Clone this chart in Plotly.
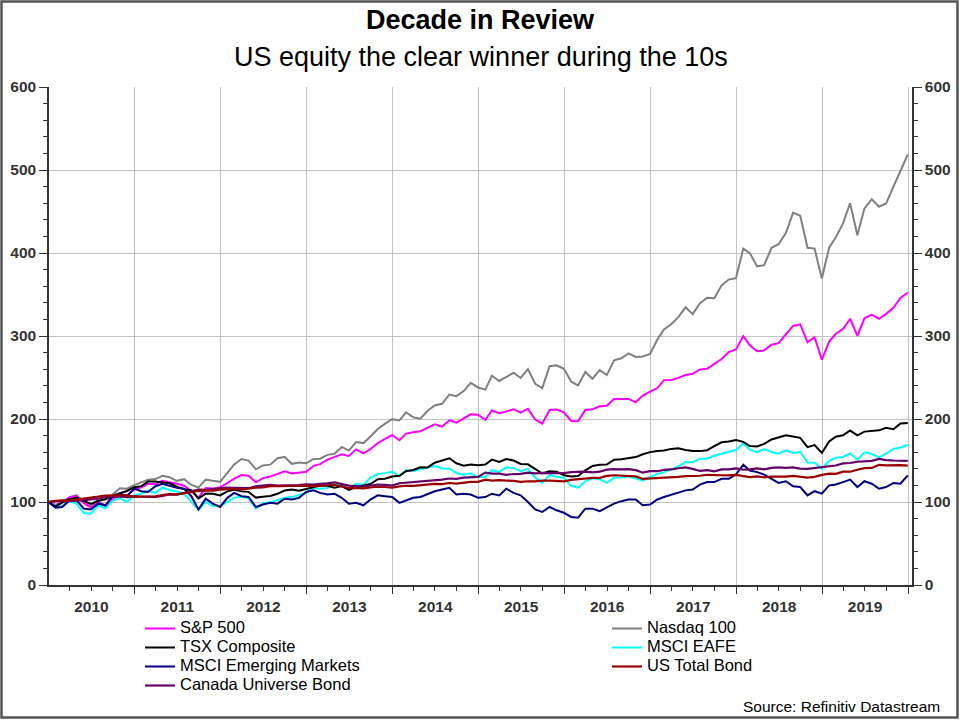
import pandas as pd
import plotly.graph_objects as go

# ---- dates: start point + month ends 2010-01 .. 2019-12
start_date = ["2010-01-01"]
month_ends = [d.strftime("%Y-%m-%d") for d in pd.date_range("2010-01-31", periods=120, freq=pd.offsets.MonthEnd())]
dates = start_date + month_ends

series_names = ["S&P 500", "Nasdaq 100", "TSX Composite", "MSCI EAFE",
                "MSCI Emerging Markets", "US Total Bond", "Canada Universe Bond"]

sp500 = [100,
    96.4, 99.4, 105.4, 107.1, 98.5, 93.4, 99.9, 95.4, 103.9, 107.8, 107.8, 115.1,
    117.8, 121.8, 121.8, 125.5, 124.1, 122.0, 119.6, 113.1, 105.2, 116.7, 116.4, 117.6,
    122.9, 128.2, 132.4, 131.6, 123.7, 128.8, 130.6, 133.6, 137.0, 134.5, 135.3, 136.5,
    143.6, 145.6, 151.1, 154.0, 157.6, 155.5, 163.4, 158.7, 163.6, 171.1, 176.3, 180.7,
    174.4, 182.4, 183.9, 185.2, 189.5, 193.5, 190.8, 198.4, 195.6, 200.3, 205.7, 205.1,
    199.0, 210.3, 207.0, 209.1, 211.8, 207.8, 212.2, 199.4, 194.4, 210.8, 211.4, 208.0,
    197.6, 197.4, 210.8, 211.6, 215.4, 216.0, 224.0, 224.2, 224.2, 220.2, 228.3, 232.9,
    237.3, 246.8, 247.0, 249.5, 253.0, 254.5, 259.8, 260.6, 266.1, 272.2, 280.6, 283.7,
    299.9, 288.8, 281.6, 282.7, 289.5, 291.3, 302.1, 312.1, 314.0, 292.6, 298.5, 271.6,
    293.3, 302.7, 308.5, 320.8, 300.3, 321.3, 325.8, 320.6, 326.7, 333.9, 345.9, 352.5]

nasdaq100 = [100,
    94.0, 99.0, 105.7, 108.3, 99.6, 94.4, 101.2, 95.1, 109.0, 116.6, 116.1, 120.4,
    123.4, 126.7, 127.6, 131.5, 129.8, 125.5, 127.5, 120.5, 117.4, 126.9, 125.5, 124.3,
    135.1, 145.2, 151.8, 149.9, 139.4, 144.1, 145.0, 152.7, 154.3, 146.0, 147.5, 146.6,
    151.9, 152.2, 156.8, 158.1, 166.3, 161.9, 172.3, 171.0, 179.0, 187.9, 194.1, 199.8,
    198.2, 208.1, 202.0, 200.3, 209.9, 216.2, 218.3, 229.4, 227.5, 233.6, 243.5, 238.0,
    235.4, 252.1, 245.8, 250.4, 255.7, 249.4, 260.2, 242.4, 237.2, 263.6, 264.6, 260.5,
    245.0, 240.5, 256.7, 248.5, 258.9, 252.9, 270.8, 273.1, 279.1, 274.8, 275.4, 278.5,
    295.8, 308.0, 314.1, 322.7, 334.5, 326.3, 339.5, 346.0, 345.5, 361.0, 368.0, 369.7,
    405.3, 399.8, 383.9, 385.3, 406.3, 410.6, 424.1, 448.6, 444.9, 406.3, 405.3, 369.2,
    406.6, 418.6, 435.6, 459.9, 421.5, 453.8, 464.7, 455.8, 459.6, 480.0, 499.4, 518.7]

tsx = [100,
    94.6, 99.5, 103.3, 105.0, 101.4, 97.6, 101.5, 103.4, 107.7, 110.6, 113.3, 117.8,
    119.1, 124.6, 124.8, 123.5, 122.6, 118.4, 115.5, 114.2, 104.3, 110.1, 110.0, 108.0,
    112.8, 114.7, 112.8, 112.2, 105.3, 106.3, 107.2, 110.0, 113.8, 115.1, 113.6, 115.7,
    118.4, 120.0, 119.5, 117.1, 119.2, 114.6, 118.2, 120.1, 121.7, 127.5, 128.0, 130.6,
    131.6, 137.0, 138.5, 141.8, 141.7, 147.3, 149.6, 152.7, 146.6, 143.6, 145.2, 144.4,
    145.1, 151.1, 148.2, 151.8, 150.0, 145.8, 145.4, 139.5, 134.3, 136.9, 136.6, 132.3,
    130.7, 131.4, 138.2, 143.3, 144.8, 145.1, 150.9, 151.4, 153.1, 154.1, 157.5, 160.1,
    161.5, 162.0, 164.0, 164.8, 162.7, 161.4, 161.3, 162.4, 167.4, 172.0, 172.9, 174.8,
    172.5, 167.4, 166.9, 170.1, 175.4, 178.2, 180.3, 178.9, 177.3, 166.1, 168.5, 159.1,
    173.0, 178.7, 180.3, 186.1, 180.3, 184.8, 185.5, 186.3, 189.3, 187.7, 194.6, 195.3]

msci_eafe = [100,
    95.5, 94.7, 100.8, 98.0, 86.7, 85.8, 95.8, 92.3, 101.4, 105.1, 100.1, 107.8,
    110.1, 113.7, 111.1, 117.5, 114.1, 112.6, 110.0, 100.1, 90.6, 100.2, 95.3, 94.8,
    99.8, 105.3, 106.2, 104.1, 92.1, 98.5, 99.6, 102.3, 105.2, 105.9, 108.3, 111.2,
    117.1, 116.0, 117.0, 123.1, 120.2, 115.9, 122.0, 120.4, 129.3, 133.7, 134.8, 136.5,
    131.0, 138.4, 137.5, 139.6, 141.8, 143.2, 140.4, 140.1, 134.8, 132.8, 134.6, 129.8,
    130.4, 138.3, 136.2, 141.8, 141.1, 137.1, 140.0, 129.6, 123.0, 132.6, 130.5, 128.8,
    119.5, 117.4, 125.0, 128.6, 127.5, 123.1, 129.3, 129.4, 131.0, 128.2, 125.7, 130.1,
    133.9, 135.7, 139.4, 142.9, 148.2, 147.9, 152.2, 152.2, 156.0, 158.3, 160.0, 162.6,
    170.7, 163.0, 160.1, 163.8, 160.2, 158.3, 162.2, 159.0, 160.4, 147.6, 147.4, 140.2,
    149.5, 153.3, 154.2, 158.6, 151.0, 159.9, 157.8, 153.7, 158.2, 163.9, 165.7, 169.0]

msci_em = [100,
    93, 94, 102, 102, 92, 91, 98, 96, 107, 110, 107, 116,
    113, 112, 119, 122, 119, 117, 116, 107, 91, 104, 98, 94,
    105, 111, 107, 106, 94, 97, 99, 98, 104, 103, 105, 112,
    114, 111, 109, 110, 105, 98, 99, 96, 103, 108, 107, 106,
    99, 102, 105, 106, 110, 113, 115, 117, 109, 110, 109, 105,
    106, 110, 108, 116, 111, 108, 100, 91, 88, 94, 90, 87,
    82, 81, 92, 92, 89, 93, 98, 101, 103, 103, 96, 97,
    103, 106, 109, 111, 114, 115, 121, 124, 124, 128, 128, 133,
    145, 138, 136, 133, 128, 123, 125, 119, 118, 108, 113, 110,
    120, 121, 124, 127, 118, 125, 122, 116, 118, 123, 122, 132]

us_total_bond = [100,
    101.5, 101.9, 101.8, 102.9, 103.8, 105.4, 106.5, 107.8, 108.0, 108.4, 107.8, 106.5,
    106.6, 106.9, 106.9, 108.2, 109.6, 109.3, 111.0, 112.7, 113.5, 113.7, 113.6, 114.8,
    115.7, 115.7, 115.1, 116.4, 117.4, 117.5, 119.1, 119.2, 119.4, 119.7, 119.9, 119.6,
    118.9, 119.6, 119.7, 120.8, 118.7, 116.8, 117.0, 116.4, 117.5, 118.5, 118.1, 117.2,
    118.9, 119.6, 119.4, 120.3, 121.7, 121.8, 121.5, 122.9, 122.2, 123.4, 124.3, 124.3,
    126.9, 125.7, 126.3, 125.8, 125.5, 124.2, 125.0, 124.8, 125.7, 125.7, 125.4, 124.9,
    126.6, 127.5, 128.7, 129.1, 129.1, 131.4, 132.2, 132.0, 131.9, 130.9, 127.8, 128.2,
    128.4, 129.3, 129.2, 130.2, 131.2, 131.0, 131.6, 132.8, 132.1, 132.2, 132.1, 132.7,
    131.2, 129.9, 130.8, 129.8, 130.7, 130.6, 130.6, 131.4, 130.6, 129.5, 130.3, 132.7,
    134.1, 134.0, 136.5, 136.5, 138.9, 140.7, 141.0, 144.8, 144.1, 144.5, 144.4, 143.8]

canada_universe_bond = [100,
    101.0, 101.3, 100.9, 101.2, 102.1, 103.1, 103.9, 105.9, 106.5, 106.6, 105.8, 106.7,
    106.3, 106.3, 106.2, 107.4, 109.0, 108.9, 110.7, 112.5, 114.9, 114.6, 115.6, 117.1,
    117.3, 117.0, 116.4, 116.6, 118.9, 119.3, 120.6, 119.7, 119.9, 119.9, 120.5, 121.3,
    120.9, 121.9, 122.4, 123.8, 122.0, 119.8, 119.2, 118.6, 119.6, 121.1, 120.7, 119.8,
    122.6, 123.2, 123.5, 124.4, 125.7, 125.8, 126.9, 128.3, 127.9, 129.3, 130.0, 130.3,
    135.5, 134.1, 134.1, 132.8, 133.7, 134.0, 135.3, 134.6, 135.0, 135.2, 135.5, 134.9,
    136.1, 136.5, 136.6, 135.7, 136.5, 139.0, 139.6, 139.2, 139.7, 138.4, 135.3, 137.2,
    137.1, 138.8, 139.2, 140.7, 141.6, 139.9, 137.4, 138.5, 136.9, 139.2, 139.4, 140.6,
    139.1, 139.3, 140.6, 139.4, 141.1, 141.8, 141.1, 141.8, 140.2, 139.9, 141.0, 142.6,
    143.5, 144.0, 146.5, 147.0, 148.5, 149.0, 149.5, 152.0, 150.5, 150.0, 149.5, 149.5]

y_ticks = [0, 100, 200, 300, 400, 500, 600]

FONT = "Arial, Liberation Sans, sans-serif"
TICK_COLOR = "#333333"
GRID = "#c3c3c3"

# (values, name, color, width, legend, rank) in drawing order
traces = [
    (nasdaq100, "Nasdaq 100", "#808080", 2, "legend2", 1),
    (sp500, "S&P 500", "#ff00ff", 2, "legend", 1),
    (msci_eafe, "MSCI EAFE", "#00ffff", 2, "legend2", 2),
    (tsx, "TSX Composite", "#000000", 2, "legend", 2),
    (msci_em, "MSCI Emerging Markets", "#000080", 2, "legend", 3),
    (canada_universe_bond, "Canada Universe Bond", "#660066", 2.2, "legend", 4),
    (us_total_bond, "US Total Bond", "#990000", 2.2, "legend2", 3),
]

fig = go.Figure()
for vals, name, color, w, leg, rank in traces:
    fig.add_trace(go.Scatter(x=dates, y=vals,
                             name=f"<span style='font-size:16.5px'>{name}</span>",
                             mode="lines", line=dict(color=color, width=w),
                             legend=leg, legendrank=rank))

# invisible trace to activate the right-hand axis
fig.add_trace(go.Scatter(x=dates, y=sp500, yaxis="y2", mode="lines",
                         line=dict(width=0, color="rgba(0,0,0,0)"),
                         showlegend=False, hoverinfo="skip"))

tickfont = dict(family=FONT, size=15.5, color=TICK_COLOR, weight="bold")

yax_common = dict(range=[0, 600], tickvals=y_ticks, showline=True, linecolor=TICK_COLOR,
                  linewidth=1.5, ticks="outside", ticklen=8, tickcolor=TICK_COLOR,
                  tickwidth=1.2, tickfont=tickfont, zeroline=False, fixedrange=True,
                  automargin=False,
                  minor=dict(dtick=20, ticks="outside", ticklen=4, tickcolor=TICK_COLOR,
                             tickwidth=1, showgrid=False))

legend_font = dict(family=FONT, size=12, color="#000000")

fig.update_layout(
    width=960, height=720,
    margin=dict(l=49, r=48, t=87, b=135, autoexpand=False),
    paper_bgcolor="white", plot_bgcolor="white",
    font=dict(family=FONT, color="#000000"),
    xaxis=dict(type="date", range=["2010-01-03", "2020-01-18"],
               dtick="M12", tick0="2010-01-01", ticklabelmode="period", tickformat="%Y",
               showgrid=True, gridcolor=GRID, gridwidth=1,
               showline=True, linecolor=TICK_COLOR, linewidth=1.5,
               ticks="outside", ticklen=7, tickcolor=TICK_COLOR, tickwidth=1.2,
               tickfont=tickfont, automargin=False,
               minor=dict(dtick="M3", ticks="outside", ticklen=4, tickcolor=TICK_COLOR,
                          tickwidth=1, showgrid=False)),
    yaxis=dict(**yax_common, showgrid=True, gridcolor=GRID, gridwidth=1),
    yaxis2=dict(**yax_common, overlaying="y", side="right", showgrid=False),
    legend=dict(x=(140 - 49) / 863, y=(585 - 614) / 498, xanchor="left", yanchor="top",
                font=legend_font, bgcolor="rgba(0,0,0,0)", borderwidth=0, tracegroupgap=0),
    legend2=dict(x=(607 - 49) / 863, y=(585 - 614) / 498, xanchor="left", yanchor="top",
                 font=legend_font, bgcolor="rgba(0,0,0,0)", borderwidth=0, tracegroupgap=0),
    showlegend=True,
    annotations=[
        dict(text="<b>Decade in Review</b>", xref="paper", yref="paper",
             x=0.5, y=(585 - 20) / 498, xanchor="center", yanchor="middle",
             showarrow=False, font=dict(family=FONT, size=27, color="#000000")),
        dict(text="US equity the clear winner during the 10s", xref="paper", yref="paper",
             x=0.5, y=(585 - 57) / 498, xanchor="center", yanchor="middle",
             showarrow=False, font=dict(family=FONT, size=27, color="#000000")),
        dict(text="Source: Refinitiv Datastream", xref="paper", yref="paper",
             x=(942 - 49) / 863, y=(585 - 706) / 498, xanchor="right", yanchor="middle",
             showarrow=False, font=dict(family=FONT, size=15.5, color="#000000")),
    ],
    shapes=[
        dict(type="rect", xref="paper", yref="paper",
             x0=(1.5 - 49) / 863, x1=(957.5 - 49) / 863,
             y0=(585 - 717.5) / 498, y1=(585 - 1.5) / 498,
             line=dict(color="#555555", width=2.5), fillcolor="rgba(0,0,0,0)", layer="below"),
    ],
)

fig.write_html("out.html", config={"displayModeBar": False},
               post_script="document.body.style.margin='0px';document.body.style.overflow='hidden';")
